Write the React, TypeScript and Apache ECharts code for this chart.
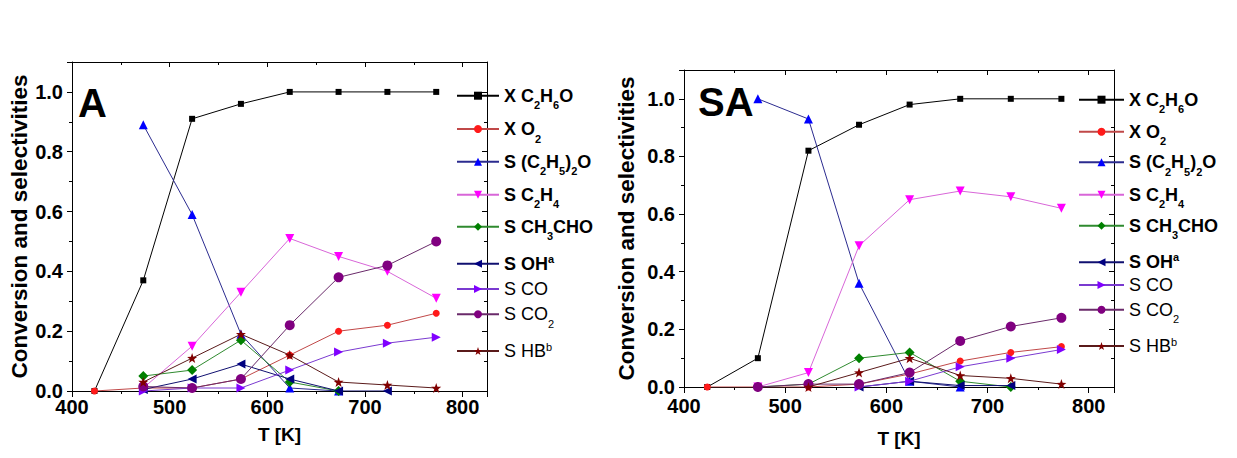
import React, { useEffect, useRef } from "react";
import * as echarts from "echarts";

// ---------- data ----------
const T = [423, 473, 523, 573, 623, 673, 723, 773];

// Panel A
const A_XC2H6O = [0, 0.37, 0.91, 0.96, 1.0, 1.0, 1.0, 1.0];
const A_XO2 = [0, 0.01, 0.01, 0.04, 0.12, 0.2, 0.22, 0.26];
const A_SEther = [null, 0.89, 0.59, 0.19, 0.01, 0.0, null, null];
const A_SC2H4 = [null, 0.01, 0.15, 0.33, 0.51, 0.45, 0.4, 0.31];
const A_SCH3CHO = [null, 0.05, 0.07, 0.17, 0.03, 0.0, null, null];
const A_SOH = [null, 0.005, 0.04, 0.09, 0.04, 0.0, 0.0, null];
const A_SCO = [null, 0.0, 0.01, 0.01, 0.07, 0.13, 0.16, 0.18];
const A_SCO2 = [null, 0.015, 0.01, 0.04, 0.22, 0.38, 0.42, 0.5];
const A_SHB = [null, 0.03, 0.11, 0.19, 0.12, 0.03, 0.02, 0.01];

// Panel SA
const SA_XC2H6O = [0, 0.1, 0.82, 0.91, 0.98, 1.0, 1.0, 1.0];
const SA_XO2 = [0, 0.0, 0.0, 0.01, 0.045, 0.09, 0.12, 0.14];
const SA_SEther = [null, 1.0, 0.93, 0.36, 0.02, 0.0, null, null];
const SA_SC2H4 = [null, 0.0, 0.05, 0.49, 0.65, 0.68, 0.66, 0.62];
const SA_SCH3CHO = [null, 0.0, 0.01, 0.1, 0.12, 0.02, 0.0, null];
const SA_SOH = [null, null, null, 0.0, 0.02, 0.005, 0.005, null];
const SA_SCO = [null, null, null, 0.0, 0.02, 0.07, 0.1, 0.13];
const SA_SCO2 = [null, 0.0, 0.01, 0.01, 0.05, 0.16, 0.21, 0.24];
const SA_SHB = [null, null, 0.0, 0.05, 0.1, 0.04, 0.03, 0.01];

const SERIES_KEYS = ["XC2H6O", "XO2", "SEther", "SC2H4", "SCH3CHO", "SOH", "SCO", "SCO2", "SHB"];
const A_VALUES = [A_XC2H6O, A_XO2, A_SEther, A_SC2H4, A_SCH3CHO, A_SOH, A_SCO, A_SCO2, A_SHB];
const SA_VALUES = [SA_XC2H6O, SA_XO2, SA_SEther, SA_SC2H4, SA_SCH3CHO, SA_SOH, SA_SCO, SA_SCO2, SA_SHB];

const LEGEND_TEXT: Record<string, string> = {
  XC2H6O: "{b|X C}{bs|2}{b|H}{bs|6}{b|O}",
  XO2: "{b|X O}{bs|2}",
  SEther: "{b|S (C}{bs|2}{b|H}{bs|5}{b|)}{bs|2}{b|O}",
  SC2H4: "{b|S C}{bs|2}{b|H}{bs|4}",
  SCH3CHO: "{b|S CH}{bs|3}{b|CHO}",
  SOH: "{b|S OH}{bp|a}",
  SCO: "{r|S CO}",
  SCO2: "{r|S CO}{rs|2}",
  SHB: "{r|S HB}{rp|b}",
};
const HAS_SUB: Record<string, boolean> = {
  XC2H6O: true, XO2: true, SEther: true, SC2H4: true, SCH3CHO: true,
  SOH: false, SCO: false, SCO2: true, SHB: false,
};

const PANEL_LABELS = ["A", "SA"];
const X_NAME = "T [K]";
const Y_NAME = "Conversion and selectivities";

// ---------- styles ----------
const FONT = "'Liberation Sans', Arial, Helvetica, sans-serif";
const STAR =
  "path://M0,-10 L2.35,-3.24 L9.51,-3.09 L3.8,1.24 L5.88,8.09 L0,4 L-5.88,8.09 L-3.8,1.24 L-9.51,-3.09 L-2.35,-3.24 Z";

const STYLE: Record<string, any> = {
  XC2H6O: { symbol: "rect", rotate: 0, size: 6, line: "#000000", fill: "#000000" },
  XO2: { symbol: "circle", rotate: 0, size: 7, line: "#c04848", fill: "#ff1a1a" },
  SEther: { symbol: "triangle", rotate: 0, size: 9, line: "#2b2b8f", fill: "#0000ff" },
  SC2H4: { symbol: "triangle", rotate: 180, size: 9, line: "#d866d8", fill: "#ff00ff" },
  SCH3CHO: { symbol: "diamond", rotate: 0, size: 10, line: "#2f8a2f", fill: "#008000" },
  SOH: { symbol: "triangle", rotate: 90, size: 9, line: "#101070", fill: "#000080" },
  SCO: { symbol: "triangle", rotate: -90, size: 9, line: "#7a3ad0", fill: "#8000ff" },
  SCO2: { symbol: "circle", rotate: 0, size: 10, line: "#6a2a6a", fill: "#800080" },
  SHB: { symbol: STAR, rotate: 0, size: 10, line: "#5a1a1a", fill: "#800000" },
};

const GRIDS = [
  { left: 72, top: 62, width: 415, height: 329 },
  { left: 684, top: 70, width: 430, height: 317 },
];
const X_NAME_GAP = [34, 42];
const X_LABEL_MARGIN = [6, 9];
const Y_NAME_GAP = [40, 46];
const LABEL_POS = [
  { x: 78, y: 102.5 },
  { x: 698, y: 101.5 },
];
const LEGEND_POS = [
  { left: 456, width: 42, centers: [96.7, 130, 162.7, 195.7, 227.7, 263.3, 290, 315.3, 351] },
  { left: 1078, width: 45, centers: [100.7, 132.7, 163.3, 195.7, 226.7, 261.7, 286, 310.7, 346] },
];

const RICH = {
  b: { fontFamily: FONT, fontSize: 18, fontWeight: "bold", color: "#000", lineHeight: 20 },
  bs: { fontFamily: FONT, fontSize: 11, fontWeight: "bold", color: "#000", lineHeight: 10, padding: [19, 0, 0, 0] },
  bp: { fontFamily: FONT, fontSize: 11, fontWeight: "bold", color: "#000", lineHeight: 10, padding: [0, 0, 10, 0] },
  r: { fontFamily: FONT, fontSize: 18, fontWeight: "normal", color: "#000", lineHeight: 20 },
  rs: { fontFamily: FONT, fontSize: 11, fontWeight: "normal", color: "#000", lineHeight: 10, padding: [19, 0, 0, 0] },
  rp: { fontFamily: FONT, fontSize: 11, fontWeight: "normal", color: "#000", lineHeight: 10, padding: [0, 0, 9, 0] },
};

function buildOption() {
  const labelStyle = { fontFamily: FONT, fontSize: 20, fontWeight: "bold", color: "#000" };
  const nameStyle = { fontFamily: FONT, fontSize: 19, fontWeight: "bold", color: "#000" };
  const lineBlack = { lineStyle: { color: "#000", width: 1 } };

  const xAxis: any[] = [];
  const yAxis: any[] = [];
  GRIDS.forEach((_, g) => {
    xAxis.push({
      type: "value",
      gridIndex: g,
      position: "bottom",
      min: 400,
      max: 825,
      interval: 100,
      axisLine: { show: true, onZero: false, ...lineBlack },
      axisTick: { show: true, inside: false, length: 6, ...lineBlack },
      minorTick: { show: true, splitNumber: 2, length: 3, ...lineBlack },
      splitLine: { show: false },
      axisLabel: {
        ...labelStyle,
        margin: X_LABEL_MARGIN[g],
        showMaxLabel: false,
        formatter: (v: number) => String(v),
      },
      name: X_NAME,
      nameLocation: "middle",
      nameGap: X_NAME_GAP[g],
      nameTextStyle: nameStyle,
    });
    xAxis.push({
      type: "value",
      gridIndex: g,
      position: "top",
      min: 400,
      max: 825,
      interval: 100,
      axisLine: { show: true, onZero: false, ...lineBlack },
      axisTick: { show: true, inside: true, length: 5, ...lineBlack },
      minorTick: { show: true, splitNumber: 2, length: 3, ...lineBlack },
      splitLine: { show: false },
      axisLabel: { show: false },
    });
    yAxis.push({
      type: "value",
      gridIndex: g,
      position: "left",
      min: 0,
      max: 1.1,
      interval: 0.2,
      axisLine: { show: true, onZero: false, ...lineBlack },
      axisTick: { show: true, inside: false, length: 5, ...lineBlack },
      minorTick: { show: true, splitNumber: 2, length: 3, ...lineBlack },
      splitLine: { show: false },
      axisLabel: {
        ...labelStyle,
        margin: 9,
        showMaxLabel: false,
        formatter: (v: number) => v.toFixed(1),
      },
      name: Y_NAME,
      nameLocation: "middle",
      nameGap: Y_NAME_GAP[g],
      nameTextStyle: { ...nameStyle, fontSize: 22.5 },
    });
    yAxis.push({
      type: "value",
      gridIndex: g,
      position: "right",
      min: 0,
      max: 1.1,
      interval: 0.2,
      axisLine: { show: true, onZero: false, ...lineBlack },
      axisTick: { show: true, inside: true, length: 5, ...lineBlack },
      minorTick: { show: true, splitNumber: 2, length: 3, ...lineBlack },
      splitLine: { show: false },
      axisLabel: { show: false },
    });
  });

  const series: any[] = [];
  [A_VALUES, SA_VALUES].forEach((panel, g) => {
    panel.forEach((vals, i) => {
      const key = SERIES_KEYS[i];
      const st = STYLE[key];
      const data: any[] = [];
      vals.forEach((v, j) => {
        if (v !== null && v !== undefined) data.push([T[j], v]);
      });
      series.push({
        type: "line",
        name: key,
        xAxisIndex: g * 2,
        yAxisIndex: g * 2,
        data,
        symbol: st.symbol,
        symbolSize: st.size,
        symbolRotate: st.rotate,
        showAllSymbol: true,
        lineStyle: { color: st.line, width: 1 },
        itemStyle: { color: st.fill, borderWidth: 0 },
        emphasis: { disabled: true },
        z: 2 + i,
      });
    });
  });

  const legend: any[] = [];
  LEGEND_POS.forEach((lp) => {
    SERIES_KEYS.forEach((key, i) => {
      legend.push({
        show: true,
        orient: "vertical",
        left: lp.left,
        top: lp.centers[i] - 10 - (HAS_SUB[key] ? 6 : 0),
        padding: 0,
        itemWidth: lp.width,
        itemHeight: 10,
        selectedMode: false,
        data: [key],
        formatter: (name: string) => LEGEND_TEXT[name],
        textStyle: { fontFamily: FONT, fontSize: 18, color: "#000", rich: RICH },
      });
    });
  });

  const graphic = PANEL_LABELS.map((t, g) => ({
    type: "text",
    x: LABEL_POS[g].x,
    y: LABEL_POS[g].y,
    z: 100,
    style: {
      text: t,
      font: `bold 40px ${FONT}`,
      fill: "#000",
      align: "left",
      verticalAlign: "middle",
      textAlign: "left",
      textVerticalAlign: "middle",
    },
  }));

  return {
    animation: false,
    backgroundColor: "#ffffff",
    grid: GRIDS.map((g) => ({ ...g, containLabel: false })),
    xAxis,
    yAxis,
    legend,
    series,
    graphic,
    tooltip: { show: false },
  };
}

export default function App() {
  const ref = useRef<HTMLDivElement>(null);
  useEffect(() => {
    if (!ref.current) return;
    const chart = echarts.init(ref.current, undefined, { renderer: "svg" });
    chart.setOption(buildOption() as any);
    return () => chart.dispose();
  }, []);
  return (
    <div
      ref={ref}
      style={{ position: "absolute", left: 0, top: 0, width: 1237, height: 458, background: "#fff" }}
    />
  );
}
